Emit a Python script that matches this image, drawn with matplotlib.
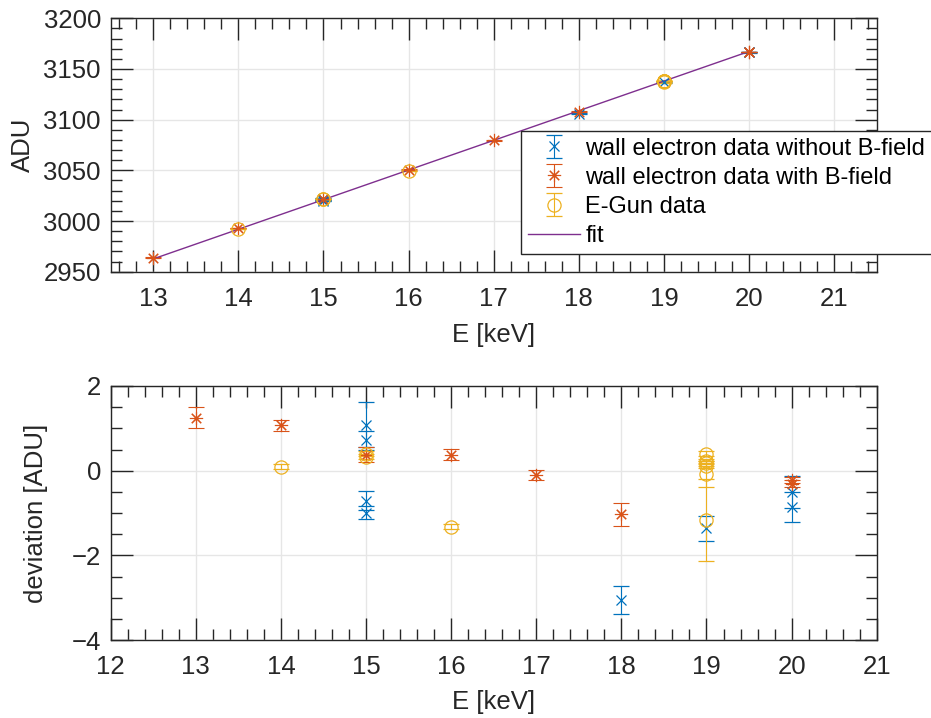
"""
Linearity of the ADU response vs. energy, with residuals to the linear fit.
"""

import numpy as np
import matplotlib
matplotlib.use('Agg')
import matplotlib.pyplot as plt
from matplotlib.ticker import MultipleLocator

plt.rcParams['font.family'] = ['Liberation Sans', 'DejaVu Sans']

# linear fit ADU = FIT_SLOPE * E + FIT_OFFSET
FIT_SLOPE = 29.24
FIT_OFFSET = 2582.5
fit_E = [13, 20]

# wall electrons without B-field
noB_E = [15, 15, 15, 15, 18, 19, 20, 20]
noB_dev = [1.09, 0.72, -0.71, -0.99, -3.05, -1.36, -0.50, -0.86]
noB_err = [0.53, 0.22, 0.22, 0.15, 0.33, 0.30, 0.38, 0.36]

# wall electrons with B-field
withB_E = [13, 14, 15, 16, 17, 18, 20, 20]
withB_dev = [1.25, 1.07, 0.38, 0.38, -0.10, -1.03, -0.22, -0.31]
withB_err = [0.25, 0.13, 0.17, 0.13, 0.12, 0.27, 0.08, 0.08]

# E-Gun
egun_E = [14, 15, 15, 16, 19, 19, 19, 19, 19, 19]
egun_dev = [0.09, 0.33, 0.40, -1.32, 0.40, 0.22, 0.17, 0.12, -0.07, -1.16]
egun_err = [0.06, 0.06, 0.06, 0.06, 0.06, 0.06, 0.06, 0.06, 0.31, 0.97]

labels = ['wall electron data without B-field', 'wall electron data with B-field',
          'E-Gun data', 'fit']

C_BLUE = '#0072BD'
C_ORANGE = '#D95319'
C_YELLOW = '#EDB120'
C_PURPLE = '#7E2F8E'
C_AX = '#262626'
ASTERISK = (8, 2, 0)
FS = 18.5

def fit(E):
    return FIT_SLOPE * np.asarray(E, dtype=float) + FIT_OFFSET

def style_axes(ax, xmaj, xmin, ymaj, ymin):
    ax.xaxis.set_major_locator(MultipleLocator(xmaj))
    ax.xaxis.set_minor_locator(MultipleLocator(xmin))
    ax.yaxis.set_major_locator(MultipleLocator(ymaj))
    ax.yaxis.set_minor_locator(MultipleLocator(ymin))
    ax.tick_params(which='both', direction='in', top=True, right=True,
                   color=C_AX, labelcolor=C_AX, labelsize=FS, width=1)
    ax.tick_params(which='major', length=16)
    ax.tick_params(which='minor', length=8)
    ax.tick_params(axis='x', which='major', pad=11)
    ax.tick_params(axis='y', which='major', pad=7)
    for sp in ax.spines.values():
        sp.set_color(C_AX)
        sp.set_linewidth(1)
    ax.grid(which='major', color='#e6e6e6', lw=1)
    ax.set_axisbelow(True)

def draw_sets(offset_fn):
    hx = plt.errorbar(noB_E, offset_fn(noB_E, noB_dev), yerr=noB_err, fmt='x',
                      color=C_BLUE, ms=7, mew=0.9, **ekw)
    hs = plt.errorbar(withB_E, offset_fn(withB_E, withB_dev), yerr=withB_err,
                      marker=ASTERISK, color=C_ORANGE, ms=9.5, mew=0.8, **ekw)
    ho = plt.errorbar(egun_E, offset_fn(egun_E, egun_dev), yerr=egun_err, fmt='o',
                      mfc='none', color=C_YELLOW, ms=9.5, mew=0.9, **ekw)
    return hx, hs, ho

fig = plt.figure(figsize=(9.31, 7.18), dpi=100)
ax1 = fig.add_axes([0.1189, 0.6216, 0.8228, 0.3529])
ax2 = fig.add_axes([0.1189, 0.1086, 0.8228, 0.3538])

ekw = dict(ls='none', elinewidth=0.8, capsize=6, capthick=0.8)

# --- top: ADU vs energy
plt.sca(ax1)
h1, h2, h3 = draw_sets(lambda E, d: fit(E) + np.array(d))
h4, = plt.plot(fit_E, fit(fit_E), color=C_PURPLE, lw=1)
plt.xlim(12.5, 21.5)
plt.ylim(2950, 3200)
plt.xlabel('E [keV]', fontsize=FS, color=C_AX, labelpad=9)
plt.ylabel('ADU', fontsize=FS, color=C_AX, labelpad=6)
style_axes(ax1, 1, 0.2, 50, 10)
leg = plt.legend([h1, h2, h3, h4], labels, loc='upper left',
                 bbox_to_anchor=(0.535, 0.557), fontsize=17, fancybox=False,
                 framealpha=1, edgecolor=C_AX, borderpad=0.3, labelspacing=0.3,
                 handlelength=2.2, handletextpad=0.25, borderaxespad=0)
leg.get_frame().set_linewidth(1)
for t in leg.get_texts():
    t.set_color('black')

# --- bottom: deviation from fit
plt.sca(ax2)
draw_sets(lambda E, d: d)
plt.xlim(12, 21)
plt.ylim(-4, 2)
plt.xlabel('E [keV]', fontsize=FS, color=C_AX, labelpad=8)
plt.ylabel('deviation [ADU]', fontsize=FS, color=C_AX, labelpad=17)
style_axes(ax2, 1, 0.2, 2, 0.5)

fig.savefig('out.png', dpi=100)
